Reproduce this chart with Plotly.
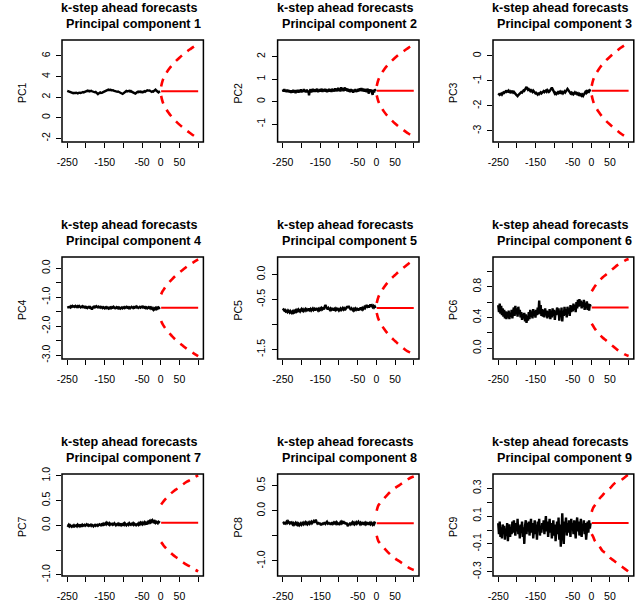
import plotly.graph_objects as go

# ---------------------------------------------------------------- data
history_steps = list(range(-250, 0, 2))           # observed lags, -250 .. -2
forecast_steps = [1, 5, 10, 20, 30, 40, 50, 60, 70, 80, 90, 100]

pc1_history = [
    2.60, 2.57, 2.58, 2.52, 2.47, 2.44, 2.40, 2.42, 2.38, 2.41,
    2.37, 2.40, 2.43, 2.39, 2.36, 2.41, 2.38, 2.42, 2.40, 2.44,
    2.47, 2.50, 2.46, 2.52, 2.49, 2.55, 2.60, 2.63, 2.58, 2.61,
    2.56, 2.59, 2.62, 2.57, 2.54, 2.58, 2.52, 2.47, 2.50, 2.41,
    2.34, 2.30, 2.36, 2.42, 2.45, 2.41, 2.47, 2.44, 2.49, 2.52,
    2.56, 2.61, 2.65, 2.70, 2.67, 2.73, 2.69, 2.74, 2.71, 2.66,
    2.70, 2.68, 2.64, 2.61, 2.57, 2.53, 2.56, 2.52, 2.55, 2.50,
    2.53, 2.47, 2.40, 2.34, 2.31, 2.37, 2.45, 2.53, 2.57, 2.60,
    2.56, 2.61, 2.58, 2.62, 2.55, 2.59, 2.53, 2.49, 2.41, 2.36,
    2.31, 2.34, 2.40, 2.47, 2.52, 2.49, 2.54, 2.50, 2.53, 2.48,
    2.51, 2.46, 2.53, 2.57, 2.52, 2.58, 2.62, 2.66, 2.63, 2.67,
    2.64, 2.59, 2.55, 2.51, 2.56, 2.53, 2.60, 2.68, 2.72, 2.64,
    2.55, 2.49, 2.46, 2.53, 2.58]
pc2_history = [
    0.55, 0.45, 0.56, 0.44, 0.53, 0.43, 0.54, 0.42, 0.52, 0.41,
    0.50, 0.39, 0.51, 0.40, 0.53, 0.42, 0.50, 0.38, 0.52, 0.41,
    0.53, 0.40, 0.51, 0.43, 0.55, 0.41, 0.52, 0.44, 0.56, 0.43,
    0.52, 0.41, 0.54, 0.42, 0.50, 0.28, 0.47, 0.55, 0.42, 0.53,
    0.57, 0.44, 0.55, 0.43, 0.56, 0.45, 0.58, 0.42, 0.54, 0.44,
    0.56, 0.45, 0.58, 0.43, 0.55, 0.46, 0.57, 0.44, 0.56, 0.42,
    0.54, 0.44, 0.57, 0.45, 0.55, 0.43, 0.58, 0.46, 0.54, 0.45,
    0.60, 0.47, 0.58, 0.46, 0.62, 0.48, 0.59, 0.45, 0.64, 0.50,
    0.61, 0.47, 0.58, 0.63, 0.49, 0.60, 0.46, 0.57, 0.44, 0.55,
    0.42, 0.56, 0.45, 0.54, 0.40, 0.53, 0.44, 0.56, 0.43, 0.52,
    0.45, 0.57, 0.46, 0.60, 0.48, 0.61, 0.47, 0.59, 0.45, 0.57,
    0.44, 0.56, 0.42, 0.58, 0.46, 0.36, 0.55, 0.43, 0.54, 0.42,
    0.30, 0.52, 0.41, 0.55, 0.47]
pc3_history = [
    -1.50, -1.53, -1.56, -1.54, -1.51, -1.55, -1.50, -1.46, -1.48, -1.45,
    -1.42, -1.44, -1.41, -1.43, -1.39, -1.44, -1.46, -1.42, -1.45, -1.43,
    -1.47, -1.44, -1.49, -1.52, -1.55, -1.58, -1.61, -1.57, -1.53, -1.50,
    -1.48, -1.45, -1.47, -1.42, -1.38, -1.40, -1.35, -1.28, -1.24, -1.31,
    -1.36, -1.33, -1.38, -1.41, -1.37, -1.40, -1.44, -1.39, -1.43, -1.47,
    -1.50, -1.48, -1.52, -1.55, -1.51, -1.53, -1.49, -1.46, -1.50, -1.47,
    -1.44, -1.41, -1.45, -1.42, -1.39, -1.43, -1.37, -1.40, -1.44, -1.41,
    -1.36, -1.31, -1.27, -1.33, -1.40, -1.46, -1.51, -1.48, -1.53, -1.50,
    -1.46, -1.49, -1.44, -1.47, -1.43, -1.48, -1.45, -1.50, -1.47, -1.42,
    -1.46, -1.41, -1.37, -1.32, -1.36, -1.41, -1.46, -1.50, -1.47, -1.52,
    -1.49, -1.54, -1.51, -1.46, -1.50, -1.48, -1.53, -1.50, -1.55, -1.52,
    -1.57, -1.54, -1.59, -1.55, -1.60, -1.52, -1.47, -1.44, -1.48, -1.42,
    -1.45, -1.40, -1.43, -1.38, -1.41]
pc4_history = [
    -1.36, -1.34, -1.35, -1.33, -1.35, -1.31, -1.33, -1.30, -1.32, -1.31,
    -1.33, -1.30, -1.32, -1.34, -1.31, -1.33, -1.30, -1.32, -1.35, -1.33,
    -1.31, -1.34, -1.32, -1.35, -1.33, -1.36, -1.34, -1.37, -1.35, -1.33,
    -1.36, -1.34, -1.38, -1.42, -1.36, -1.33, -1.35, -1.32, -1.34, -1.31,
    -1.33, -1.35, -1.32, -1.34, -1.36, -1.33, -1.35, -1.37, -1.34, -1.36,
    -1.38, -1.35, -1.37, -1.34, -1.36, -1.39, -1.36, -1.38, -1.35, -1.37,
    -1.34, -1.36, -1.33, -1.35, -1.38, -1.36, -1.34, -1.37, -1.35, -1.38,
    -1.36, -1.39, -1.37, -1.35, -1.38, -1.36, -1.34, -1.37, -1.35, -1.33,
    -1.36, -1.34, -1.37, -1.35, -1.38, -1.36, -1.33, -1.35, -1.37, -1.34,
    -1.36, -1.33, -1.35, -1.32, -1.34, -1.37, -1.35, -1.33, -1.36, -1.34,
    -1.32, -1.35, -1.33, -1.36, -1.34, -1.37, -1.35, -1.38, -1.36, -1.34,
    -1.37, -1.35, -1.39, -1.36, -1.40, -1.43, -1.38, -1.41, -1.37, -1.40,
    -1.36, -1.39, -1.35, -1.37, -1.35]
pc5_history = [
    -0.68, -0.70, -0.72, -0.71, -0.74, -0.73, -0.75, -0.72, -0.74, -0.76,
    -0.73, -0.75, -0.77, -0.74, -0.76, -0.73, -0.75, -0.72, -0.74, -0.71,
    -0.73, -0.70, -0.72, -0.74, -0.71, -0.69, -0.72, -0.70, -0.73, -0.71,
    -0.69, -0.72, -0.70, -0.73, -0.71, -0.68, -0.71, -0.69, -0.72, -0.70,
    -0.68, -0.71, -0.69, -0.72, -0.70, -0.67, -0.70, -0.72, -0.69, -0.71,
    -0.68, -0.70, -0.67, -0.69, -0.66, -0.70, -0.64, -0.61, -0.65, -0.68,
    -0.70, -0.67, -0.69, -0.71, -0.68, -0.70, -0.67, -0.69, -0.72, -0.69,
    -0.71, -0.68, -0.70, -0.67, -0.69, -0.72, -0.70, -0.68, -0.71, -0.69,
    -0.67, -0.70, -0.68, -0.71, -0.69, -0.66, -0.64, -0.67, -0.63, -0.66,
    -0.69, -0.71, -0.68, -0.70, -0.72, -0.69, -0.71, -0.68, -0.70, -0.67,
    -0.69, -0.72, -0.68, -0.70, -0.66, -0.69, -0.67, -0.70, -0.68, -0.65,
    -0.67, -0.64, -0.61, -0.64, -0.62, -0.66, -0.63, -0.60, -0.64, -0.62,
    -0.65, -0.63, -0.66, -0.64, -0.67]
pc6_history = [
    0.56, 0.47, 0.58, 0.45, 0.55, 0.43, 0.52, 0.41, 0.50, 0.39,
    0.48, 0.38, 0.47, 0.40, 0.49, 0.38, 0.46, 0.41, 0.50, 0.39,
    0.48, 0.53, 0.42, 0.55, 0.44, 0.52, 0.41, 0.54, 0.45, 0.50,
    0.40, 0.47, 0.37, 0.45, 0.39, 0.46, 0.35, 0.44, 0.33, 0.42,
    0.36, 0.47, 0.38, 0.50, 0.41, 0.48, 0.39, 0.51, 0.42, 0.49,
    0.40, 0.50, 0.43, 0.53, 0.44, 0.62, 0.45, 0.56, 0.42, 0.51,
    0.41, 0.50, 0.40, 0.52, 0.43, 0.49, 0.39, 0.48, 0.41, 0.51,
    0.38, 0.49, 0.40, 0.52, 0.42, 0.50, 0.37, 0.48, 0.43, 0.53,
    0.44, 0.52, 0.36, 0.49, 0.41, 0.53, 0.35, 0.48, 0.42, 0.54,
    0.43, 0.51, 0.40, 0.54, 0.45, 0.52, 0.42, 0.56, 0.47, 0.55,
    0.48, 0.58, 0.50, 0.56, 0.47, 0.60, 0.52, 0.63, 0.54, 0.64,
    0.55, 0.62, 0.52, 0.60, 0.54, 0.63, 0.50, 0.59, 0.52, 0.61,
    0.50, 0.58, 0.49, 0.57, 0.54]
pc7_history = [
    0.00, -0.01, 0.01, -0.02, 0.00, -0.01, -0.03, -0.01, -0.02, 0.00,
    -0.02, -0.01, 0.00, -0.02, 0.01, -0.01, 0.00, -0.02, 0.00, -0.01,
    0.01, -0.01, 0.00, 0.01, -0.01, 0.00, 0.02, 0.00, 0.01, -0.01,
    0.00, 0.01, -0.01, 0.01, 0.00, -0.02, 0.00, 0.01, -0.01, 0.00,
    0.01, -0.01, 0.00, 0.02, 0.01, 0.00, 0.02, 0.01, 0.03, 0.01,
    0.02, 0.04, 0.02, 0.05, 0.03, 0.02, 0.04, 0.01, 0.03, 0.02,
    0.03, 0.01, 0.02, 0.04, 0.02, 0.00, 0.02, 0.03, 0.01, 0.03,
    0.01, 0.02, 0.00, 0.02, 0.01, 0.03, 0.01, 0.04, 0.02, 0.00,
    0.02, 0.03, 0.01, 0.04, 0.02, 0.01, 0.03, 0.02, 0.04, 0.01,
    0.03, 0.02, 0.00, 0.02, 0.03, 0.01, 0.04, 0.02, 0.05, 0.03,
    0.05, 0.02, 0.04, 0.06, 0.03, 0.05, 0.02, 0.04, 0.07, 0.05,
    0.08, 0.06, 0.09, 0.07, 0.10, 0.08, 0.06, 0.08, 0.05, 0.07,
    0.06, 0.04, 0.07, 0.05, 0.05]
pc8_history = [
    -0.25, -0.24, -0.27, -0.23, -0.25, -0.22, -0.24, -0.21, -0.23, -0.25,
    -0.22, -0.26, -0.24, -0.27, -0.25, -0.28, -0.26, -0.24, -0.27, -0.25,
    -0.28, -0.26, -0.29, -0.27, -0.25, -0.28, -0.26, -0.24, -0.27, -0.25,
    -0.23, -0.26, -0.24, -0.27, -0.25, -0.23, -0.26, -0.24, -0.22, -0.25,
    -0.23, -0.21, -0.24, -0.20, -0.18, -0.22, -0.25, -0.23, -0.27, -0.24,
    -0.26, -0.29, -0.25, -0.28, -0.24, -0.27, -0.23, -0.26, -0.24, -0.22,
    -0.25, -0.23, -0.27, -0.24, -0.28, -0.25, -0.23, -0.26, -0.24, -0.27,
    -0.24, -0.26, -0.23, -0.25, -0.28, -0.24, -0.26, -0.23, -0.25, -0.22,
    -0.24, -0.21, -0.25, -0.23, -0.27, -0.24, -0.29, -0.31, -0.26, -0.28,
    -0.24, -0.27, -0.25, -0.23, -0.26, -0.24, -0.27, -0.25, -0.23, -0.26,
    -0.24, -0.22, -0.25, -0.27, -0.24, -0.26, -0.23, -0.25, -0.28, -0.25,
    -0.27, -0.24, -0.26, -0.23, -0.25, -0.28, -0.25, -0.27, -0.24, -0.26,
    -0.28, -0.25, -0.27, -0.24, -0.25]
pc9_history = [
    0.05, -0.03, 0.06, -0.05, 0.02, -0.06, 0.04, -0.02, 0.03, -0.07,
    0.01, -0.04, 0.05, -0.08, 0.00, 0.04, -0.05, 0.02, -0.03, 0.06,
    -0.02, 0.07, 0.01, -0.04, 0.05, -0.01, 0.08, -0.03, 0.03, -0.06,
    0.04, -0.02, 0.06, -0.05, 0.02, -0.10, 0.03, 0.07, -0.03, 0.05,
    -0.01, 0.06, -0.04, 0.03, 0.08, -0.02, 0.05, -0.06, 0.02, 0.07,
    -0.03, 0.04, -0.07, 0.06, 0.00, 0.08, -0.04, 0.03, -0.02, 0.05,
    0.01, 0.07, -0.03, 0.04, 0.10, -0.01, 0.06, -0.05, 0.03, 0.08,
    -0.02, 0.05, -0.06, 0.02, 0.07, -0.04, 0.04, -0.08, 0.01, 0.06,
    -0.03, 0.09, -0.07, 0.04, -0.12, 0.03, 0.12, -0.02, -0.10, 0.06,
    0.02, 0.09, -0.04, 0.05, -0.02, 0.07, 0.01, -0.05, 0.08, 0.00,
    0.05, -0.03, 0.07, 0.02, -0.06, 0.04, 0.09, -0.01, 0.06, -0.04,
    0.03, 0.08, -0.05, 0.04, 0.01, 0.07, -0.03, 0.05, -0.07, 0.02,
    0.06, -0.02, 0.07, 0.01, 0.05]

# point forecasts (flat) for each component
forecast_mean = [2.58, 0.49, -1.39, -1.36, -0.67, 0.53, 0.05, -0.25, 0.05]

# upper / lower forecast bands at forecast_steps
pc1_upper = [3.04, 3.61, 4.03, 4.64, 5.10, 5.49, 5.83, 6.14, 6.43, 6.69, 6.94, 7.18]
pc1_lower = [2.12, 1.55, 1.13, 0.52, 0.06, -0.33, -0.67, -0.98, -1.27, -1.53, -1.78, -2.02]
pc2_upper = [0.70, 0.95, 1.14, 1.41, 1.62, 1.79, 1.95, 2.09, 2.21, 2.33, 2.44, 2.55]
pc2_lower = [0.28, 0.03, -0.16, -0.43, -0.64, -0.81, -0.97, -1.11, -1.23, -1.35, -1.46, -1.57]
pc3_upper = [-1.20, -0.96, -0.78, -0.53, -0.33, -0.17, -0.03, 0.10, 0.22, 0.34, 0.44, 0.54]
pc3_lower = [-1.58, -1.82, -2.00, -2.25, -2.45, -2.61, -2.75, -2.88, -3.00, -3.12, -3.22, -3.32]
pc4_upper = [-0.90, -0.79, -0.69, -0.52, -0.38, -0.25, -0.14, -0.04, 0.06, 0.15, 0.23, 0.31]
pc4_lower = [-1.82, -1.93, -2.03, -2.20, -2.34, -2.47, -2.58, -2.68, -2.78, -2.87, -2.95, -3.03]
pc5_upper = [-0.57, -0.46, -0.38, -0.26, -0.16, -0.08, -0.01, 0.06, 0.12, 0.18, 0.24, 0.29]
pc5_lower = [-0.77, -0.88, -0.96, -1.08, -1.18, -1.26, -1.33, -1.40, -1.46, -1.52, -1.56, -1.60]
pc6_upper = [0.74, 0.77, 0.81, 0.87, 0.92, 0.96, 1.00, 1.04, 1.08, 1.11, 1.14, 1.16]
pc6_lower = [0.32, 0.29, 0.25, 0.19, 0.14, 0.10, 0.06, 0.02, -0.02, -0.05, -0.08, -0.10]
pc7_upper = [0.42, 0.46, 0.51, 0.59, 0.66, 0.72, 0.77, 0.83, 0.88, 0.92, 0.97, 1.01]
pc7_lower = [-0.34, -0.38, -0.43, -0.51, -0.58, -0.64, -0.69, -0.75, -0.80, -0.84, -0.89, -0.93]
pc8_upper = [0.00, 0.10, 0.15, 0.24, 0.32, 0.39, 0.45, 0.50, 0.55, 0.60, 0.65, 0.68]
pc8_lower = [-0.50, -0.60, -0.65, -0.74, -0.82, -0.89, -0.95, -1.00, -1.05, -1.10, -1.15, -1.18]
pc9_upper = [0.13, 0.16, 0.18, 0.22, 0.25, 0.28, 0.30, 0.33, 0.35, 0.36, 0.38, 0.40]
pc9_lower = [-0.03, -0.05, -0.08, -0.11, -0.15, -0.17, -0.20, -0.22, -0.24, -0.26, -0.28, -0.30]

# axis ticks
x_ticks = [-250, -200, -150, -100, -50, 0, 50, 100]
x_tick_labels = ["-250", "", "-150", "", "-50", "0", "50", ""]

pc1_yticks = [-2, 0, 2, 4, 6]
pc1_ylabels = ["-2", "0", "2", "4", "6"]
pc2_yticks = [-1, 0, 1, 2]
pc2_ylabels = ["-1", "0", "1", "2"]
pc3_yticks = [-3, -2, -1, 0]
pc3_ylabels = ["-3", "-2", "-1", "0"]
pc4_yticks = [-3.0, -2.5, -2.0, -1.5, -1.0, -0.5, 0.0]
pc4_ylabels = ["-3.0", "", "-2.0", "", "-1.0", "", "0.0"]
pc5_yticks = [-1.5, -1.0, -0.5, 0.0]
pc5_ylabels = ["-1.5", "", "-0.5", "0.0"]
pc6_yticks = [0.0, 0.2, 0.4, 0.6, 0.8, 1.0, 1.2]
pc6_ylabels = ["0.0", "", "0.4", "", "0.8", "", "1.2"]
pc7_yticks = [-1.0, -0.5, 0.0, 0.5, 1.0]
pc7_ylabels = ["-1.0", "", "0.0", "0.5", "1.0"]
pc8_yticks = [-1.0, -0.5, 0.0, 0.5]
pc8_ylabels = ["-1.0", "", "0.0", "0.5"]
pc9_yticks = [-0.3, -0.2, -0.1, 0.0, 0.1, 0.2, 0.3]
pc9_ylabels = ["-0.3", "", "-0.1", "", "0.1", "", "0.3"]

# ---------------------------------------------------------------- layout helpers
W, H = 635, 604
FONT = "Liberation Sans, Arial, Helvetica, sans-serif"
X_RANGE = [-264, 114]
Y_RANGES = [[-2.36, 7.55], [-1.79, 2.74], [-3.45, 0.64],
            [-3.13, 0.39], [-1.69, 0.35], [-0.139, 1.186],
            [-1.024, 1.036], [-1.30, 0.73], [-0.331, 0.403]]

COL_LEFT = [62.0, 277.6, 493.0]
BOX_W = 141.4
ROW_TOP = [40.0, 257.0, 474.0]
BOX_H = 102.0
FRAME_W = 1.5

histories = [pc1_history, pc2_history, pc3_history, pc4_history, pc5_history,
             pc6_history, pc7_history, pc8_history, pc9_history]
uppers = [pc1_upper, pc2_upper, pc3_upper, pc4_upper, pc5_upper,
          pc6_upper, pc7_upper, pc8_upper, pc9_upper]
lowers = [pc1_lower, pc2_lower, pc3_lower, pc4_lower, pc5_lower,
          pc6_lower, pc7_lower, pc8_lower, pc9_lower]
yticks = [pc1_yticks, pc2_yticks, pc3_yticks, pc4_yticks, pc5_yticks,
          pc6_yticks, pc7_yticks, pc8_yticks, pc9_yticks]
ylabels = [pc1_ylabels, pc2_ylabels, pc3_ylabels, pc4_ylabels, pc5_ylabels,
           pc6_ylabels, pc7_ylabels, pc8_ylabels, pc9_ylabels]

fig = go.Figure()
layout = dict(
    template="none",
    width=W, height=H,
    margin=dict(l=0, r=0, t=0, b=0, pad=0, autoexpand=False),
    paper_bgcolor="white", plot_bgcolor="white",
    showlegend=False,
    font=dict(family=FONT, color="black", size=10.5),
    annotations=[], shapes=[],
)

axis_common = dict(
    showline=False, automargin=False,
    ticks="outside", ticklen=5, tickwidth=1.2, tickcolor="black",
    showgrid=False, zeroline=False,
    tickfont=dict(family=FONT, size=10.5, color="black"),
)

for i in range(9):
    r, c = divmod(i, 3)
    left = COL_LEFT[c]
    right = min(left + BOX_W, W - 1.2)
    top = ROW_TOP[r]
    bottom = top + BOX_H
    xname = "x" if i == 0 else f"x{i + 1}"
    yname = "y" if i == 0 else f"y{i + 1}"
    xkey = "xaxis" if i == 0 else f"xaxis{i + 1}"
    ykey = "yaxis" if i == 0 else f"yaxis{i + 1}"

    layout[xkey] = dict(
        axis_common, domain=[left / W, right / W], anchor=yname,
        range=X_RANGE, tickvals=x_ticks, ticktext=x_tick_labels,
        ticklabelstandoff=5,
    )
    layout[ykey] = dict(
        axis_common, domain=[1 - bottom / H, 1 - top / H], anchor=xname,
        range=Y_RANGES[i], tickvals=yticks[i], ticktext=ylabels[i],
        tickangle=-90, ticklabelstandoff=2,
    )

    # frame around the plotting region
    layout["shapes"].append(dict(
        type="rect", xref="paper", yref="paper",
        x0=left / W, x1=right / W,
        y0=1 - bottom / H, y1=1 - top / H,
        line=dict(color="black", width=FRAME_W), fillcolor="rgba(0,0,0,0)",
        layer="above"))

    # observed series
    fig.add_trace(go.Scatter(
        x=history_steps, y=histories[i], mode="lines",
        line=dict(color="black", width=2.4), xaxis=xname, yaxis=yname,
        hoverinfo="skip"))
    # point forecast
    fig.add_trace(go.Scatter(
        x=forecast_steps, y=[forecast_mean[i]] * len(forecast_steps),
        mode="lines", line=dict(color="#ff0000", width=2),
        xaxis=xname, yaxis=yname, hoverinfo="skip"))
    # forecast bands
    for band in (uppers[i], lowers[i]):
        fig.add_trace(go.Scatter(
            x=forecast_steps, y=band, mode="lines",
            line=dict(color="#ff0000", width=2.6, dash="8px,7px",
                      shape="spline", smoothing=1.0),
            xaxis=xname, yaxis=yname, hoverinfo="skip"))

    cx = left + BOX_W / 2
    # two-line bold title
    layout["annotations"].append(dict(
        xref="paper", yref="paper", x=(cx - 3) / W, y=1 - (top - 32) / H,
        text="<b>k-step ahead forecasts</b>", showarrow=False,
        xanchor="center", yanchor="middle", borderpad=0,
        font=dict(family=FONT, size=12.6, color="black")))
    layout["annotations"].append(dict(
        xref="paper", yref="paper", x=(cx + 1) / W, y=1 - (top - 16) / H,
        text=f"<b>Principal component {i + 1}</b>", showarrow=False,
        xanchor="center", yanchor="middle", borderpad=0,
        font=dict(family=FONT, size=12.6, color="black")))
    # y-axis title
    layout["annotations"].append(dict(
        xref="paper", yref="paper", x=(left - 40) / W,
        y=1 - (top + BOX_H / 2 + 2) / H,
        text=f"PC{i + 1}", showarrow=False, textangle=-90,
        xanchor="center", yanchor="middle",
        font=dict(family=FONT, size=10.5, color="black")))

fig.update_layout(**layout)
fig.write_html("out.html")
